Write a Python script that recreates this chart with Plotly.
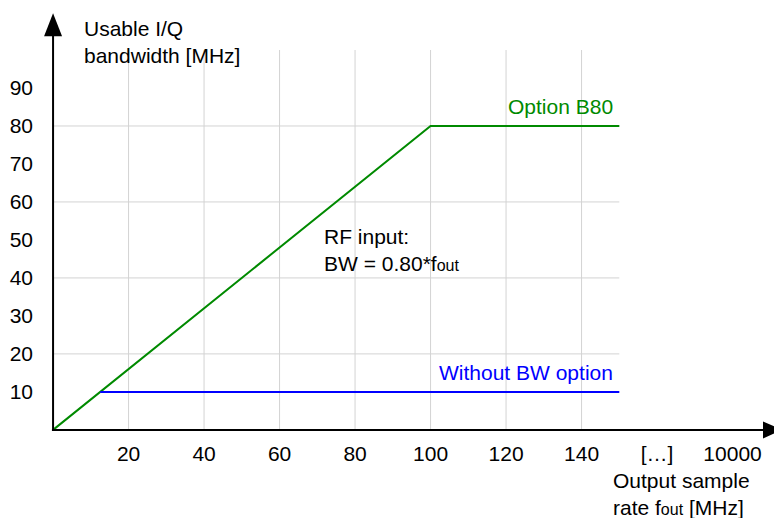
import plotly.graph_objects as go

# ---- data ----
x_b80 = [0, 100, 150]
y_b80 = [0, 80, 80]
x_nobw = [12.5, 150]
y_nobw = [10, 10]

x_tick_vals = [20, 40, 60, 80, 100, 120, 140, 160, 180]
x_tick_text = ["20", "40", "60", "80", "100", "120", "140", "[…]", "10000"]
y_tick_vals = [10, 20, 30, 40, 50, 60, 70, 80, 90]
y_tick_text = ["10", "20", "30", "40", "50", "60", "70", "80", "90"]

x_grid = [20, 40, 60, 80, 100, 120, 140]
y_grid = [20, 40, 60, 80]
grid_x_max = 150
grid_y_max = 100

X_RANGE = [-2.4, 193.1]
Y_RANGE = [-2.4, 110]

FONT = "Liberation Sans, Arial, sans-serif"
FS = 21
GREEN = "#008a00"
BLUE = "#0000ff"
GRID = "#d3d3d3"
SUB = '<span style="font-size:16px">out</span>'

fig = go.Figure()
fig.add_trace(go.Scatter(x=x_b80, y=y_b80, mode="lines",
                         line=dict(color=GREEN, width=2), hoverinfo="skip"))
fig.add_trace(go.Scatter(x=x_nobw, y=y_nobw, mode="lines",
                         line=dict(color=BLUE, width=2), hoverinfo="skip"))

shapes = []
for gx in x_grid:
    shapes.append(dict(type="line", xref="x", yref="y", x0=gx, x1=gx, y0=0, y1=grid_y_max,
                       line=dict(color=GRID, width=1), layer="below"))
for gy in y_grid:
    shapes.append(dict(type="line", xref="x", yref="y", x0=0, x1=grid_x_max, y0=gy, y1=gy,
                       line=dict(color=GRID, width=1), layer="below"))

# axis lines with arrowheads
shapes.append(dict(type="line", xref="x", yref="y", x0=-0.3, x1=X_RANGE[1] - 4, y0=0, y1=0,
                   line=dict(color="black", width=2)))
shapes.append(dict(type="line", xref="x", yref="y", x0=0, x1=0, y0=-0.3, y1=Y_RANGE[1] - 4,
                   line=dict(color="black", width=2)))
shapes.append(dict(type="path", xref="x", yref="y", xsizemode="pixel", ysizemode="pixel",
                   xanchor=X_RANGE[1], yanchor=0,
                   path="M0,0 L-19,8.5 L-19,-8.5 Z",
                   fillcolor="black", line=dict(color="black", width=0)))
shapes.append(dict(type="path", xref="x", yref="y", xsizemode="pixel", ysizemode="pixel",
                   xanchor=0, yanchor=109.7,
                   path="M0,0 L-9,-23 L9,-23 Z",
                   fillcolor="black", line=dict(color="black", width=0)))

annotations = [
    dict(x=7.9, y=102, xref="x", yref="y", xanchor="left", yanchor="middle", align="left",
         text="Usable I/Q<br>bandwidth [MHz]", showarrow=False),
    dict(x=148, y=-0.128, xref="x", yref="paper", xanchor="left", yanchor="middle", align="left",
         text="Output sample<br>rate f" + SUB + " [MHz]", showarrow=False),
    dict(x=71.5, y=47.4, xref="x", yref="y", xanchor="left", yanchor="middle", align="left",
         text="RF input:<br>BW = 0.80*f" + SUB, showarrow=False),
    dict(x=148.5, y=85, xref="x", yref="y", xanchor="right", yanchor="middle",
         text="Option B80", showarrow=False, font=dict(color=GREEN)),
    dict(x=148.5, y=15, xref="x", yref="y", xanchor="right", yanchor="middle",
         text="Without BW option", showarrow=False, font=dict(color=BLUE)),
]
for a in annotations:
    a["borderpad"] = 0
    f = dict(family=FONT, size=FS, color="black")
    f.update(a.get("font", {}))
    a["font"] = f

# page body has an 8px margin: the figure is offset so the plot lands where the reference has it
fig.update_layout(
    width=774, height=510, autosize=False,
    margin=dict(l=36, r=0, t=4, b=79, pad=0),
    paper_bgcolor="white", plot_bgcolor="white",
    showlegend=False,
    font=dict(family=FONT, size=FS, color="black"),
    shapes=shapes, annotations=annotations,
    xaxis=dict(range=X_RANGE, showgrid=False, zeroline=False, showline=False,
               tickmode="array", tickvals=x_tick_vals, ticktext=x_tick_text,
               ticks="", ticklabelstandoff=0, tickfont=dict(family=FONT, size=FS, color="black"),
               fixedrange=True, automargin=False),
    yaxis=dict(range=Y_RANGE, showgrid=False, zeroline=False, showline=False,
               tickmode="array", tickvals=y_tick_vals, ticktext=y_tick_text,
               ticks="", ticklabelstandoff=10, tickfont=dict(family=FONT, size=FS, color="black"),
               fixedrange=True, automargin=False),
)

fig.write_html("out.html")
